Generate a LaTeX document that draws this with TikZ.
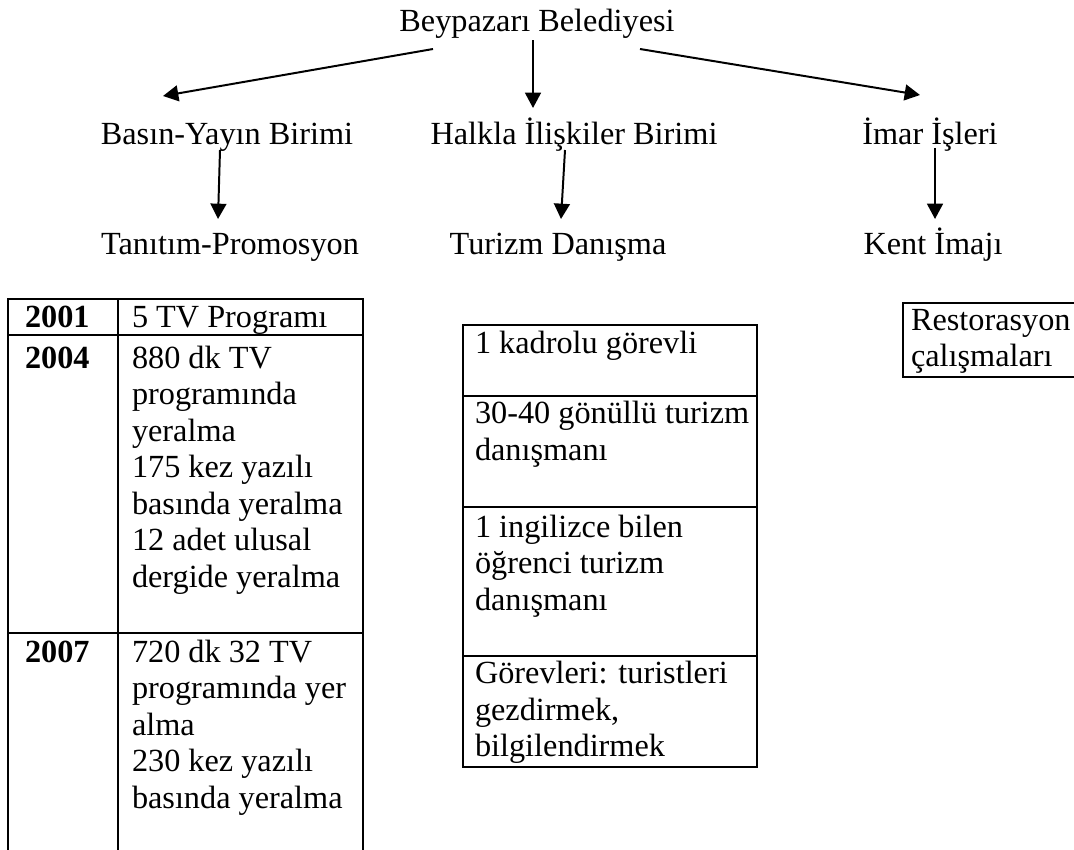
\documentclass[tikz,border=0pt]{standalone}
\usepackage{fontspec}
\setmainfont{Liberation Serif}
\usetikzlibrary{arrows.meta}
\begin{document}
\begin{tikzpicture}[x=0.378pt,y=-0.378pt,
  every node/.style={inner sep=0pt,outer sep=0pt,font=\fontsize{12.2pt}{13.8pt}\selectfont},
  lbl/.style={anchor=base},
  cell/.style={anchor=base west},
  yr/.style={anchor=base west,font=\fontsize{12.2pt}{13.8pt}\selectfont\bfseries},
  arr/.style={line width=0.75pt,-{Triangle[length=5.8pt,width=6pt]}},
  rule/.style={line width=0.75pt}]
\useasboundingbox (0,0) rectangle (1074,849);
\clip (0,0) rectangle (1074,849);

% hierarchy labels
\node[lbl] (top) at (537,31) {Beypazarı Belediyesi};
\node[lbl] (basin) at (227,144) {Basın-Yayın Birimi};
\node[lbl] (halk) at (574,144) {Halkla İlişkiler Birimi};
\node[lbl] (imar) at (930,144) {İmar İşleri};
\node[lbl] (tanit) at (230,254) {Tanıtım-Promosyon};
\node[lbl] (turizm) at (558,254) {Turizm Danışma};
\node[lbl] (kent) at (933,254) {Kent İmajı};

% connector endpoints
\coordinate (topL) at (433,49);
\coordinate (topM) at (533,40);
\coordinate (topR) at (640,49);
\coordinate (basinIn) at (163,96);
\coordinate (halkIn) at (533,108);
\coordinate (imarIn) at (920,95);
\coordinate (basinOut) at (220,150);
\coordinate (halkOut) at (565,150);
\coordinate (imarOut) at (935,148);
\coordinate (tanitIn) at (218,219);
\coordinate (turizmIn) at (561,219);
\coordinate (kentIn) at (935,219);

\draw[arr] (topL) -- (basinIn);
\draw[arr] (topM) -- (halkIn);
\draw[arr] (topR) -- (imarIn);
\draw[arr] (basinOut) -- (tanitIn);
\draw[arr] (halkOut) -- (turizmIn);
\draw[arr] (imarOut) -- (kentIn);

% left table
\draw[rule] (8,860) -- (8,299) -- (363,299) -- (363,860);
\draw[rule] (118,299) -- (118,860);
\draw[rule] (8,335) -- (363,335);
\draw[rule] (8,633) -- (363,633);
\node[yr] (y1) at (25,327) {2001};
\node[yr] (y2) at (25,368) {2004};
\node[yr] (y3) at (25,662) {2007};
\node[cell] (a1) at (132,327) {5 TV Programı};
\node[cell] (b1) at (132,368) {880 dk TV};
\node[cell] (b2) at (132,404.5) {programında};
\node[cell] (b3) at (132,441) {yeralma};
\node[cell] (b4) at (132,477.5) {175 kez yazılı};
\node[cell] (b5) at (132,514) {basında yeralma};
\node[cell] (b6) at (132,550.5) {12 adet ulusal};
\node[cell] (b7) at (132,587) {dergide yeralma};
\node[cell] (c1) at (132,662) {720 dk 32 TV};
\node[cell] (c2) at (132,698.5) {programında yer};
\node[cell] (c3) at (132,735) {alma};
\node[cell] (c4) at (132,771.5) {230 kez yazılı};
\node[cell] (c5) at (132,808) {basında yeralma};

% middle table
\draw[rule] (463,325) rectangle (757,767);
\draw[rule] (463,396) -- (757,396);
\draw[rule] (463,507) -- (757,507);
\draw[rule] (463,656) -- (757,656);
\node[cell] (m1) at (475,353) {1 kadrolu görevli};
\node[cell] (m2) at (475,423) {30-40 gönüllü turizm};
\node[cell] (m3) at (475,460) {danışmanı};
\node[cell] (m4) at (475,537) {1 ingilizce bilen};
\node[cell] (m5) at (475,573) {öğrenci turizm};
\node[cell] (m6) at (475,610) {danışmanı};
\node[cell] (m7) at (475,683) {Görevleri: turistleri};
\node[cell] (m8) at (475,720) {gezdirmek,};
\node[cell] (m9) at (475,756) {bilgilendirmek};

% right box
\draw[rule] (1080,303) -- (903,303) -- (903,377) -- (1080,377);
\node[cell] (r1) at (911,330) {Restorasyon};
\node[cell] (r2) at (911,366) {çalışmaları};
\end{tikzpicture}
\end{document}
